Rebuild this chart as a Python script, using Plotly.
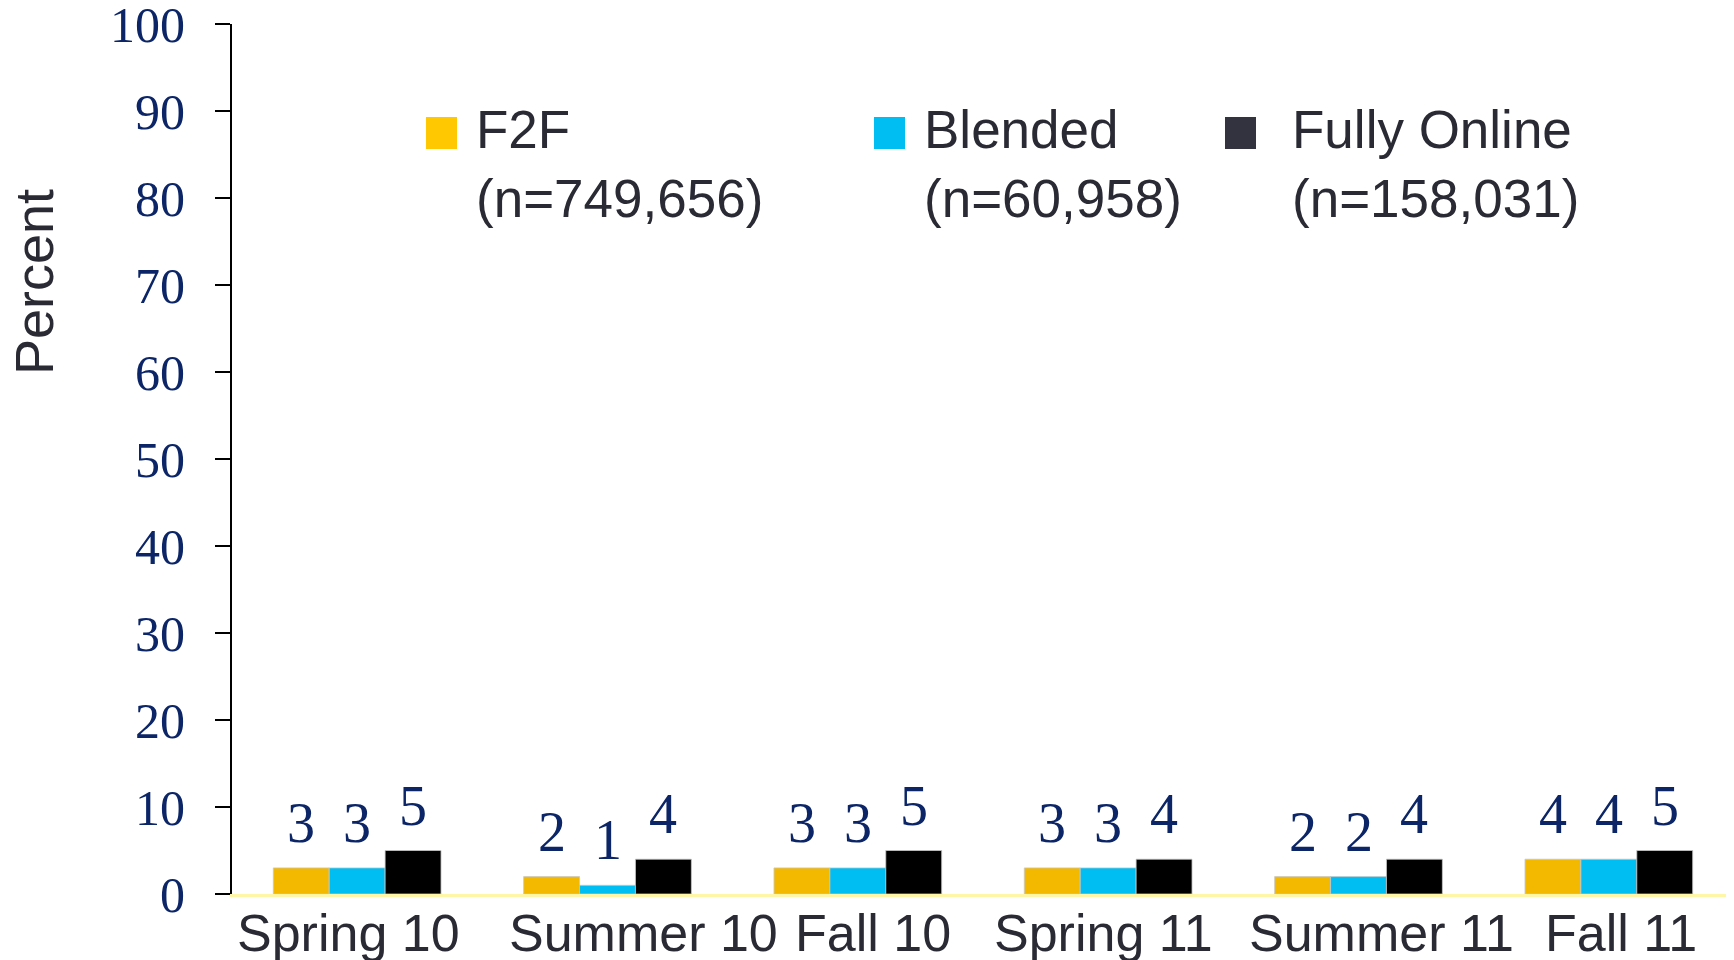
import plotly.graph_objects as go

categories = ["Spring 10", "Summer 10", "Fall 10", "Spring 11", "Summer 11", "Fall 11"]
f2f = [3, 2, 3, 3, 2, 4]
blended = [3, 1, 3, 3, 2, 4]
online = [5, 4, 5, 4, 4, 5]
series_names = ["F2F", "Blended", "Fully Online"]
series_n = ["(n=749,656)", "(n=60,958)", "(n=158,031)"]
bar_colors = ["#F2B900", "#00BEF2", "#000000"]
legend_colors = ["#FFC800", "#00BEF2", "#33333F"]
y_ticks = list(range(0, 101, 10))

# layout (page pixels; the page body adds an 8px offset)
OFF = 8
W, H = 1734 - OFF, 960 - OFF
ML, MR, MT, MB = 232 - OFF, 0, 24 - OFF, 66
BARGAP = 0.33
PW = W - ML - MR
PH = H - MT - MB
label_xshift = [-8, 33, 14, -4, 21, 11]


def px(xp):
    return (xp - OFF - ML) / PW


def py(yp):
    return 1 - (yp - OFF - MT) / PH


fig = go.Figure()
all_series = [f2f, blended, online]
for name, vals, col in zip(series_names, all_series, bar_colors):
    fig.add_trace(go.Bar(
        x=categories, y=vals, name=name,
        marker=dict(color=col, line=dict(color="#c8c8c8", width=0.8)),
        showlegend=False,
    ))

# data labels above bars
cat_w = PW / len(categories)
bar_w = cat_w * (1 - BARGAP) / 3
serif = "Liberation Serif, Times New Roman, serif"
arial = "Liberation Sans, Arial, sans-serif"
navy = "#0B2567"
dark = "#2A2A35"
for i, vals in enumerate(all_series):
    off = (i - 1) * bar_w
    for c, v in zip(categories, vals):
        fig.add_annotation(x=c, y=v, xref="x", yref="y", text=str(v), showarrow=False,
                           xshift=off, yshift=12, yanchor="bottom",
                           font=dict(family=serif, size=56, color=navy))

# category labels
for c, s in zip(categories, label_xshift):
    fig.add_annotation(x=c, y=0, xref="x", yref="paper", text=c, showarrow=False,
                       xshift=s * 1734 / 1568, yshift=-8, yanchor="top",
                       font=dict(family=arial, size=52, color=dark))

# custom legend
leg_x = [426, 874, 1225]
text_x = [478, 926, 1294]
for i in range(3):
    fig.add_shape(type="rect", xref="paper", yref="paper",
                  x0=px(leg_x[i]), x1=px(leg_x[i] + 31),
                  y0=py(149), y1=py(117),
                  fillcolor=legend_colors[i], line=dict(width=0))
    fig.add_annotation(xref="paper", yref="paper", x=px(text_x[i] - 4), y=py(98),
                       xanchor="left", yanchor="top", align="left", showarrow=False,
                       text=series_names[i] + "<br>" + series_n[i],
                       font=dict(family=arial, size=53, color=dark))

# y-axis title
fig.add_annotation(xref="paper", yref="paper", x=px(34), y=py(282), text="Percent",
                   textangle=-90, showarrow=False, xanchor="center", yanchor="middle",
                   font=dict(family=arial, size=54, color=dark))

fig.update_layout(
    width=W, height=H, barmode="group", bargap=BARGAP, bargroupgap=0,
    margin=dict(l=ML, r=MR, t=MT, b=MB, autoexpand=False),
    plot_bgcolor="white", paper_bgcolor="white",
    xaxis=dict(showline=True, linecolor="#FFF6A8", linewidth=3, ticks="",
               showticklabels=False, showgrid=False, zeroline=False),
    yaxis=dict(range=[0, 100], tickvals=y_ticks, showline=True, linecolor="black", linewidth=2,
               ticks="outside", ticklen=15, tickwidth=2, tickcolor="black",
               ticklabelstandoff=20, ticklabeloverflow="allow",
               tickfont=dict(family=serif, size=50, color=navy),
               showgrid=False, zeroline=False),
)

fig.write_html("out.html")
